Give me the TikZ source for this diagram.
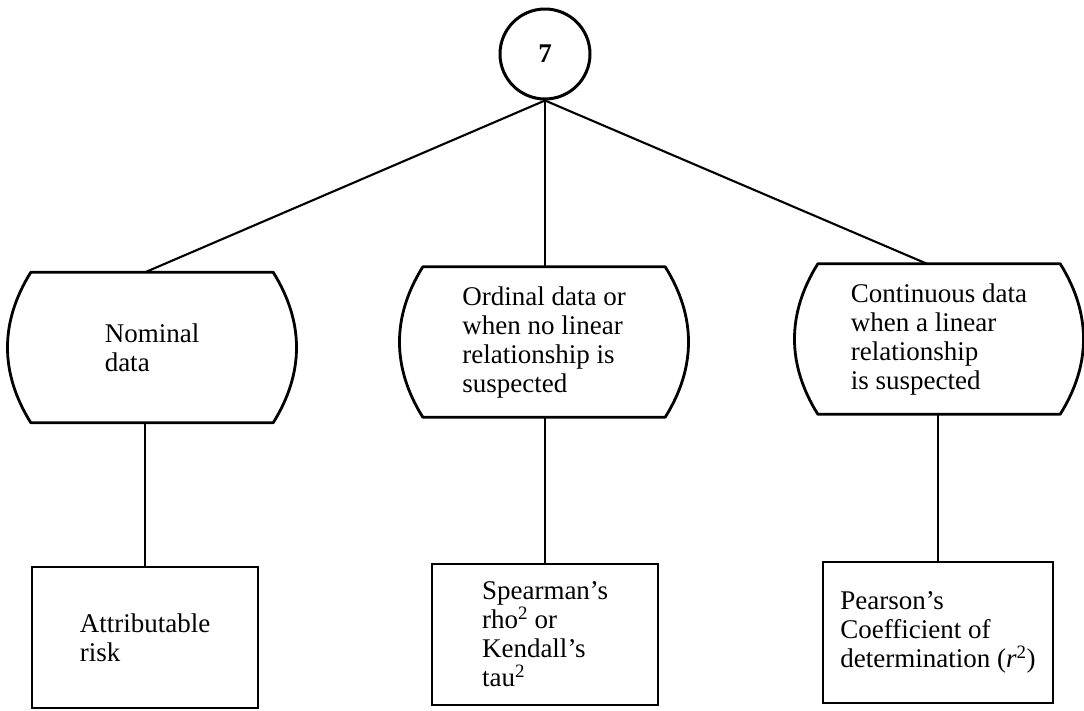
\documentclass[tikz,border=0pt]{standalone}
\usepackage{fontspec}
\setmainfont{Liberation Serif}
\usetikzlibrary{calc}
\begin{document}
\begin{tikzpicture}[x=1pt,y=-1pt,
  txt/.style={font=\fontsize{27}{29}\selectfont, align=left, inner sep=0pt},
  bulgebox/.style={txt, draw=none, minimum width=242pt, minimum height=150pt},
  resultbox/.style={txt, draw, line width=2.8pt, minimum height=141pt},
  hub/.style={circle, draw, line width=3pt, minimum size=90pt, inner sep=0pt,
              font=\fontsize{27}{29}\selectfont\bfseries},
  link/.style={line width=2.1pt},
  outline/.style={line width=2.8pt, line join=round}]
\useasboundingbox (0,0) rectangle (1084,710);

% root
\node[hub] (root) at (545,54) {7};

% data type boxes (flat top and bottom, bulging sides)
\node[bulgebox] (nom) at (152,347.5) {Nominal\\data};
\node[bulgebox] (ord) at (544,342) {Ordinal data or\\when no linear\\relationship is\\suspected};
\node[bulgebox] (con) at (939,339) {Continuous data\\when a linear\\relationship\\is suspected};
\foreach \n in {nom,ord,con}
  \draw[outline] (\n.north west) -- (\n.north east) to[bend left=32] (\n.south east)
                 -- (\n.south west) to[bend left=32] cycle;

% measures
\node[resultbox, minimum width=226pt] (attr) at (145,637.5) {Attributable\\risk};
\node[resultbox, minimum width=226pt] (spear) at (545,634.5) {Spearman's\\rho\textsuperscript{2} or\\Kendall's\\tau\textsuperscript{2}};
\node[resultbox, minimum width=230pt] (pear) at (938,632.5) {Pearson's\\Coefficient of\\determination (\textit{r}\textsuperscript{2})};

% connectors
\draw[link] (root.south) -- (nom.north -| attr.north);
\draw[link] (root.south) -- (root.south |- ord.north);
\draw[link] (root.south) -- ($(con.north)+(-12,0)$);
\draw[link] (nom.south -| attr.north) -- (attr.north);
\draw[link] (ord.south -| spear.north) -- (spear.north);
\draw[link] (con.south -| pear.north) -- (pear.north);
\end{tikzpicture}
\end{document}
